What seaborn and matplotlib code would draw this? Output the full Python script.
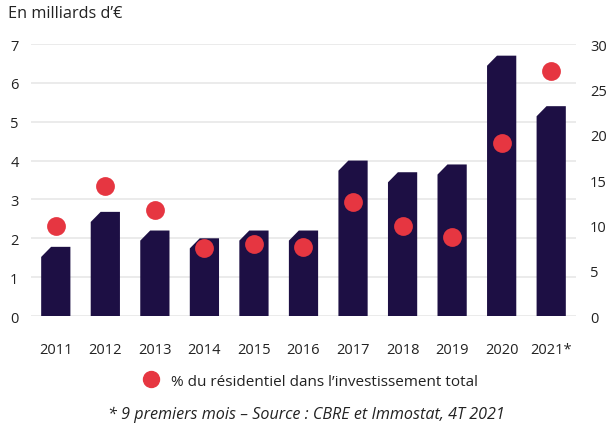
import matplotlib
matplotlib.use("Agg")
import matplotlib.pyplot as plt
from matplotlib.patches import Polygon
from matplotlib.lines import Line2D
import seaborn as sns

# -----------------------------
# Data
# -----------------------------
years = ["2011", "2012", "2013", "2014", "2015", "2016",
         "2017", "2018", "2019", "2020", "2021*"]
invest_bn = [1.78, 2.68, 2.2, 2.0, 2.2, 2.2, 4.0, 3.7, 3.9, 6.7, 5.4]
resid_pct = [9.9, 14.3, 11.7, 7.5, 7.9, 7.6, 12.6, 9.9, 8.7, 19.1, 27.0]

left_ticks = list(range(0, 8))
right_ticks = list(range(0, 31, 5))

NAVY = "#1d0f44"
RED = "#e63641"
GRID = "#e8e8e8"
TXT = "#222222"

sns.set_theme(style="white")
plt.rcParams["font.family"] = ["Open Sans", "DejaVu Sans"]

fig = plt.figure(figsize=(6.13, 4.27), dpi=100)
ax = fig.add_axes([0.0506, 0.2576, 0.889, 0.637])

# -----------------------------
# Bars (with chamfered top-left corner)
# -----------------------------
sns.barplot(x=years, y=invest_bn, color=NAVY, width=0.59, ax=ax,
            saturation=1)
for p in list(ax.patches):
    x0, w, h = p.get_x(), p.get_width(), p.get_height()
    cx, cy = w * 0.34, 0.26
    p.set_visible(False)
    ax.add_patch(Polygon([(x0, 0), (x0 + w, 0), (x0 + w, h),
                          (x0 + cx, h), (x0, h - cy)],
                         closed=True, facecolor=NAVY, edgecolor="none",
                         zorder=3))

ax.set_ylim(0, 7)
ax.set_yticks(left_ticks)
ax.set_xlim(-0.5, len(years) - 0.5)
ax.yaxis.grid(True, color=GRID, linewidth=1.2, zorder=0)
ax.set_axisbelow(True)
for s in ax.spines.values():
    s.set_visible(False)
ax.tick_params(axis="both", length=0, labelsize=10.5, colors=TXT)
ax.tick_params(axis="x", pad=19)
ax.tick_params(axis="y", pad=9)
ax.set_xlabel("")
ax.set_ylabel("")

# -----------------------------
# Dots on right axis
# -----------------------------
ax2 = ax.twinx()
sns.pointplot(x=years, y=resid_pct, ax=ax2, color=RED, linestyle="none",
              markers="o", markersize=11.5, errorbar=None)
ax2.set_ylim(0, 30)
ax2.set_yticks(right_ticks)
ax2.set_xlim(-0.5, len(years) - 0.5)
for s in ax2.spines.values():
    s.set_visible(False)
ax2.tick_params(axis="y", length=0, labelsize=10.5, colors=TXT, pad=10)
ax2.set_ylabel("")
for c in ax2.collections + ax2.lines:
    c.set_zorder(5)

# -----------------------------
# Texts
# -----------------------------
fig.text(0.013, 0.967, "En milliards d\u2019\u20ac", fontsize=11.7,
         color=TXT, va="center", ha="left")

handle = Line2D([], [], marker="o", linestyle="none", color=RED,
                markersize=11.5)
fig.legend([handle], ["% du résidentiel dans l\u2019investissement total"],
           loc="center", bbox_to_anchor=(0.5, 0.105), frameon=False,
           fontsize=11, handletextpad=0.3, labelcolor=TXT)

fig.text(0.5, 0.028,
         "* 9 premiers mois \u2013 Source : CBRE et Immostat, 4T 2021",
         fontsize=11.6, style="italic", color=TXT, ha="center", va="center")

fig.savefig("out.png", dpi=100)
plt.close(fig)
